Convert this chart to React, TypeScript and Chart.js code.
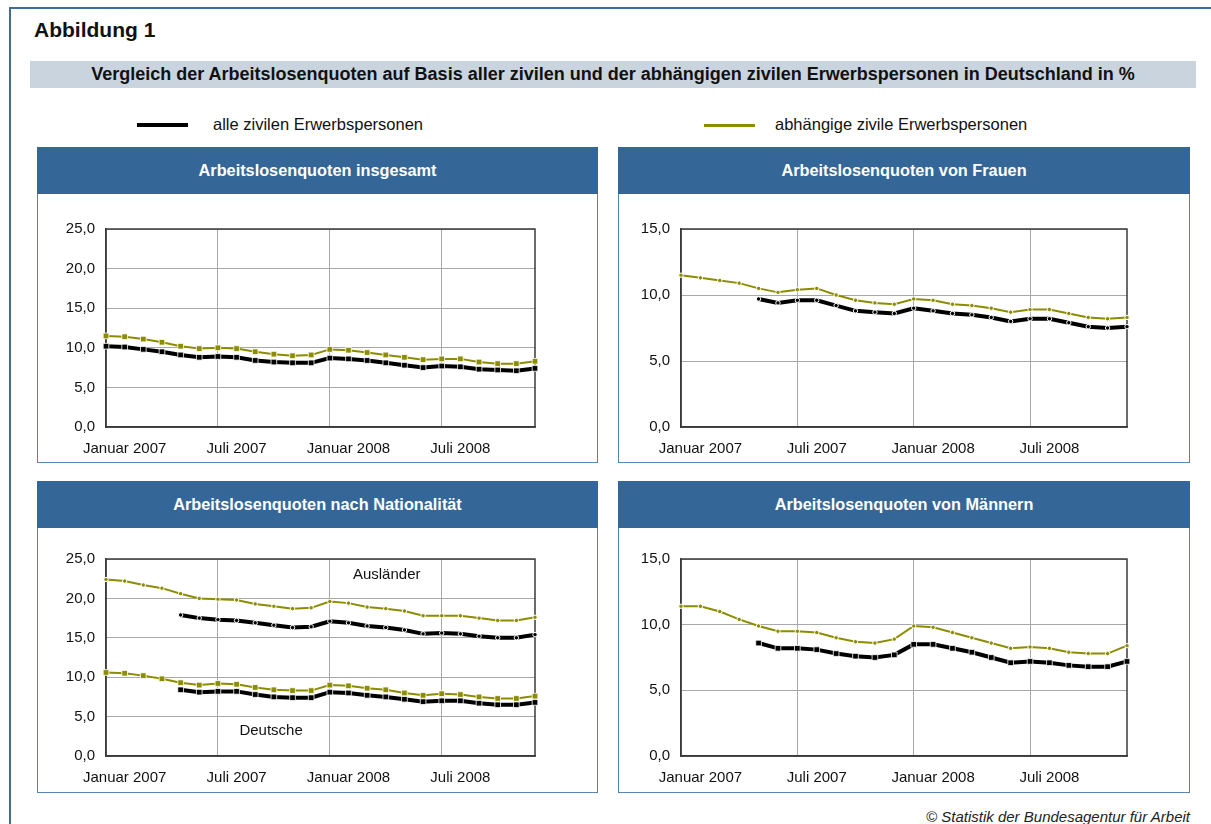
import React, { useEffect, useRef } from 'react';
import { Chart, registerables } from 'chart.js';

Chart.register(...registerables);

const FONT = '"Liberation Sans", Arial, Helvetica, sans-serif';
const BLACK = '#000000';
const OLIVE = '#8c8c00';
const BLUE = '#346797';

const months = [
  'Januar 2007', 'Februar 2007', 'März 2007', 'April 2007', 'Mai 2007', 'Juni 2007',
  'Juli 2007', 'August 2007', 'September 2007', 'Oktober 2007', 'November 2007', 'Dezember 2007',
  'Januar 2008', 'Februar 2008', 'März 2008', 'April 2008', 'Mai 2008', 'Juni 2008',
  'Juli 2008', 'August 2008', 'September 2008', 'Oktober 2008', 'November 2008', 'Dezember 2008',
];

const legendLabels = ['alle zivilen Erwerbspersonen', 'abhängige zivile Erwerbspersonen'];

// Insgesamt
const insgesamtAlle = [10.2, 10.1, 9.8, 9.5, 9.1, 8.8, 8.9, 8.8, 8.4, 8.2, 8.1, 8.1, 8.7, 8.6, 8.4, 8.1, 7.8, 7.5, 7.7, 7.6, 7.3, 7.2, 7.1, 7.4];
const insgesamtAbh = [11.5, 11.4, 11.1, 10.7, 10.2, 9.9, 10.0, 9.9, 9.5, 9.2, 9.0, 9.1, 9.8, 9.7, 9.4, 9.1, 8.8, 8.5, 8.6, 8.6, 8.2, 8.0, 8.0, 8.3];

// Frauen
const frauenAlle = [null, null, null, null, 9.7, 9.4, 9.6, 9.6, 9.2, 8.8, 8.7, 8.6, 9.0, 8.8, 8.6, 8.5, 8.3, 8.0, 8.2, 8.2, 7.9, 7.6, 7.5, 7.6];
const frauenAbh = [11.5, 11.3, 11.1, 10.9, 10.5, 10.2, 10.4, 10.5, 10.0, 9.6, 9.4, 9.3, 9.7, 9.6, 9.3, 9.2, 9.0, 8.7, 8.9, 8.9, 8.6, 8.3, 8.2, 8.3];

// Nationalität
const auslaenderAlle = [null, null, null, null, 17.9, 17.5, 17.3, 17.2, 16.9, 16.6, 16.3, 16.4, 17.1, 16.9, 16.5, 16.3, 16.0, 15.5, 15.6, 15.5, 15.2, 15.0, 15.0, 15.4];
const auslaenderAbh = [22.4, 22.2, 21.7, 21.3, 20.6, 20.0, 19.9, 19.8, 19.3, 19.0, 18.7, 18.8, 19.6, 19.4, 18.9, 18.7, 18.4, 17.8, 17.8, 17.8, 17.5, 17.2, 17.2, 17.6];
const deutscheAlle = [null, null, null, null, 8.4, 8.1, 8.2, 8.2, 7.8, 7.5, 7.4, 7.4, 8.1, 8.0, 7.7, 7.5, 7.2, 6.9, 7.0, 7.0, 6.7, 6.5, 6.5, 6.8];
const deutscheAbh = [10.6, 10.5, 10.2, 9.8, 9.3, 9.0, 9.2, 9.1, 8.7, 8.4, 8.3, 8.3, 9.0, 8.9, 8.6, 8.4, 8.0, 7.7, 7.9, 7.8, 7.5, 7.3, 7.3, 7.6];

// Männer
const maennerAlle = [null, null, null, null, 8.6, 8.2, 8.2, 8.1, 7.8, 7.6, 7.5, 7.7, 8.5, 8.5, 8.2, 7.9, 7.5, 7.1, 7.2, 7.1, 6.9, 6.8, 6.8, 7.2];
const maennerAbh = [11.4, 11.4, 11.0, 10.4, 9.9, 9.5, 9.5, 9.4, 9.0, 8.7, 8.6, 8.9, 9.9, 9.8, 9.4, 9.0, 8.6, 8.2, 8.3, 8.2, 7.9, 7.8, 7.8, 8.4];

const nationAnnotations = [
  { text: 'Ausländer', x: 15.05, y: 23.0 },
  { text: 'Deutsche', x: 8.85, y: 3.2 },
];

type Ann = { text: string; x: number; y: number };

function series(data: (number | null)[], color: string, width: number, marker: 'rect' | 'dot') {
  return {
    data,
    borderColor: color,
    backgroundColor: color,
    borderWidth: width,
    pointStyle: marker === 'rect' ? 'rect' : 'circle',
    pointRadius: marker === 'rect' ? 4 : 2.2,
    pointBorderWidth: marker === 'rect' ? 0.8 : 1,
    pointBorderColor: '#ffffff',
    pointBackgroundColor: color,
    tension: 0,
    clip: false as any,
    spanGaps: false,
  };
}

const framePlugin = {
  id: 'plotFrame',
  beforeDatasetsDraw(chart: any) {
    const { ctx, chartArea } = chart;
    ctx.save();
    ctx.strokeStyle = '#3a3a3a';
    ctx.lineWidth = 1.5;
    ctx.strokeRect(chartArea.left, chartArea.top, chartArea.right - chartArea.left, chartArea.bottom - chartArea.top);
    ctx.restore();
  },
};

function annPlugin(anns: Ann[]) {
  return {
    id: 'textAnn',
    afterDatasetsDraw(chart: any) {
      const { ctx } = chart;
      const xs = chart.scales.x;
      const ys = chart.scales.y;
      ctx.save();
      ctx.font = `15px ${FONT}`;
      ctx.fillStyle = '#111';
      ctx.textAlign = 'center';
      ctx.textBaseline = 'middle';
      anns.forEach((a) => {
        ctx.fillText(a.text, xs.getPixelForValue(a.x), ys.getPixelForValue(a.y));
      });
      ctx.restore();
    },
  };
}

type PanelProps = {
  left: number;
  top: number;
  width: number;
  height: number;
  yWidth: number;
  padTop: number;
  padRight: number;
  xHeight: number;
  yMax: number;
  datasets: any[];
  anns?: Ann[];
};

function LineChart(p: PanelProps) {
  const ref = useRef<HTMLCanvasElement | null>(null);
  useEffect(() => {
    if (!ref.current) return;
    const plotW = p.width - p.yWidth - p.padRight;
    const step = plotW / (months.length - 1);
    const chart = new Chart(ref.current, {
      type: 'line',
      data: { labels: months, datasets: p.datasets },
      options: {
        animation: false,
        responsive: false,
        devicePixelRatio: 1,
        events: [],
        layout: { padding: { top: p.padTop, right: p.padRight, left: 0, bottom: 0 } },
        plugins: { legend: { display: false }, tooltip: { enabled: false } },
        scales: {
          x: {
            type: 'category',
            offset: false,
            afterFit: (s: any) => { s.height = p.xHeight; },
            grid: {
              drawTicks: false,
              color: (c: any) => (c.index > 0 && c.index % 6 === 0 ? '#a8a8a8' : 'rgba(0,0,0,0)'),
              lineWidth: 1,
            },
            border: { color: '#3a3a3a', width: 1.5 },
            ticks: {
              autoSkip: false,
              maxRotation: 0,
              minRotation: 0,
              padding: 13,
              labelOffset: step,
              color: '#111',
              font: { family: FONT, size: 15 },
              callback: (_v: any, i: number) => (i % 6 === 0 ? months[i] : ''),
            },
          },
          y: {
            min: 0,
            max: p.yMax,
            afterFit: (s: any) => { s.width = p.yWidth; },
            grid: { drawTicks: false, color: '#a8a8a8', lineWidth: 1 },
            border: { color: '#3a3a3a', width: 1.5 },
            ticks: {
              stepSize: 5,
              padding: 11,
              color: '#111',
              font: { family: FONT, size: 15 },
              callback: (v: any) => Number(v).toFixed(1).replace('.', ','),
            },
          },
        },
      },
      plugins: [framePlugin, annPlugin(p.anns || [])],
    } as any);
    return () => chart.destroy();
  }, []);
  return (
    <canvas
      ref={ref}
      width={p.width}
      height={p.height}
      style={{ position: 'absolute', left: p.left, top: p.top, width: p.width, height: p.height }}
    />
  );
}

function Panel(props: { x: number; y: number; w: number; bottom: number; title: string }) {
  const headerH = 47;
  return (
    <>
      <div
        style={{
          position: 'absolute', left: props.x, top: props.y, width: props.w, height: headerH,
          background: BLUE, color: '#fff', fontWeight: 'bold', fontSize: 16.3, fontFamily: FONT,
          textAlign: 'center', lineHeight: `${headerH}px`,
        }}
      >
        {props.title}
      </div>
      <div
        style={{
          position: 'absolute', left: props.x, top: props.y + headerH, width: props.w - 2,
          height: props.bottom - props.y - headerH - 1, borderLeft: '1px solid #5a84b0',
          borderRight: '1px solid #5a84b0', borderBottom: '1px solid #5a84b0',
        }}
      />
    </>
  );
}

export default function App() {
  return (
    <div style={{ position: 'absolute', left: 0, top: 0, width: 1211, height: 824, overflow: 'hidden', background: '#fff', fontFamily: FONT }}>
      <div style={{ position: 'absolute', left: 9, top: 7, width: 1300, height: 900, border: '2px solid #3d6b9c' }} />
      <div style={{ position: 'absolute', left: 34, top: 18, fontSize: 21, fontWeight: 'bold', color: '#111' }}>Abbildung 1</div>
      <div
        style={{
          position: 'absolute', left: 30, top: 61, width: 1166, height: 27, background: '#c9d4df',
          textAlign: 'center', lineHeight: '27px', fontWeight: 'bold', fontSize: 18, color: '#111',
        }}
      >
        Vergleich der Arbeitslosenquoten auf Basis aller zivilen und der abhängigen zivilen Erwerbspersonen in Deutschland in %
      </div>
      <div style={{ position: 'absolute', left: 137, top: 123, width: 51, height: 4, background: BLACK }} />
      <div style={{ position: 'absolute', left: 213, top: 115, fontSize: 16.5, color: '#111' }}>{legendLabels[0]}</div>
      <div style={{ position: 'absolute', left: 704, top: 124, width: 51, height: 3, background: OLIVE }} />
      <div style={{ position: 'absolute', left: 775, top: 115, fontSize: 16.5, color: '#111' }}>{legendLabels[1]}</div>

      <Panel x={37} y={147} w={561} bottom={463} title="Arbeitslosenquoten insgesamt" />
      <Panel x={618} y={147} w={572} bottom={463} title="Arbeitslosenquoten von Frauen" />
      <Panel x={37} y={481} w={561} bottom={793} title="Arbeitslosenquoten nach Nationalität" />
      <Panel x={618} y={481} w={572} bottom={793} title="Arbeitslosenquoten von Männern" />

      <LineChart
        left={38} top={194} width={559} height={267} yWidth={68} padTop={35} padRight={62} xHeight={34} yMax={25}
        datasets={[series(insgesamtAbh, OLIVE, 2, 'rect'), series(insgesamtAlle, BLACK, 4, 'rect')]}
      />
      <LineChart
        left={619} top={194} width={570} height={267} yWidth={62} padTop={35} padRight={62} xHeight={34} yMax={15}
        datasets={[series(frauenAbh, OLIVE, 2, 'dot'), series(frauenAlle, BLACK, 4, 'dot')]}
      />
      <LineChart
        left={38} top={528} width={559} height={264} yWidth={68} padTop={31} padRight={62} xHeight={36} yMax={25}
        anns={nationAnnotations}
        datasets={[
          series(auslaenderAbh, OLIVE, 2, 'dot'), series(auslaenderAlle, BLACK, 4, 'dot'),
          series(deutscheAbh, OLIVE, 2, 'rect'), series(deutscheAlle, BLACK, 4, 'rect'),
        ]}
      />
      <LineChart
        left={619} top={528} width={570} height={264} yWidth={62} padTop={31} padRight={62} xHeight={36} yMax={15}
        datasets={[series(maennerAbh, OLIVE, 2, 'dot'), series(maennerAlle, BLACK, 4, 'rect')]}
      />

      <div style={{ position: 'absolute', right: 21, top: 808, fontSize: 15, fontStyle: 'italic', color: '#222' }}>
        © Statistik der Bundesagentur für Arbeit
      </div>
    </div>
  );
}
